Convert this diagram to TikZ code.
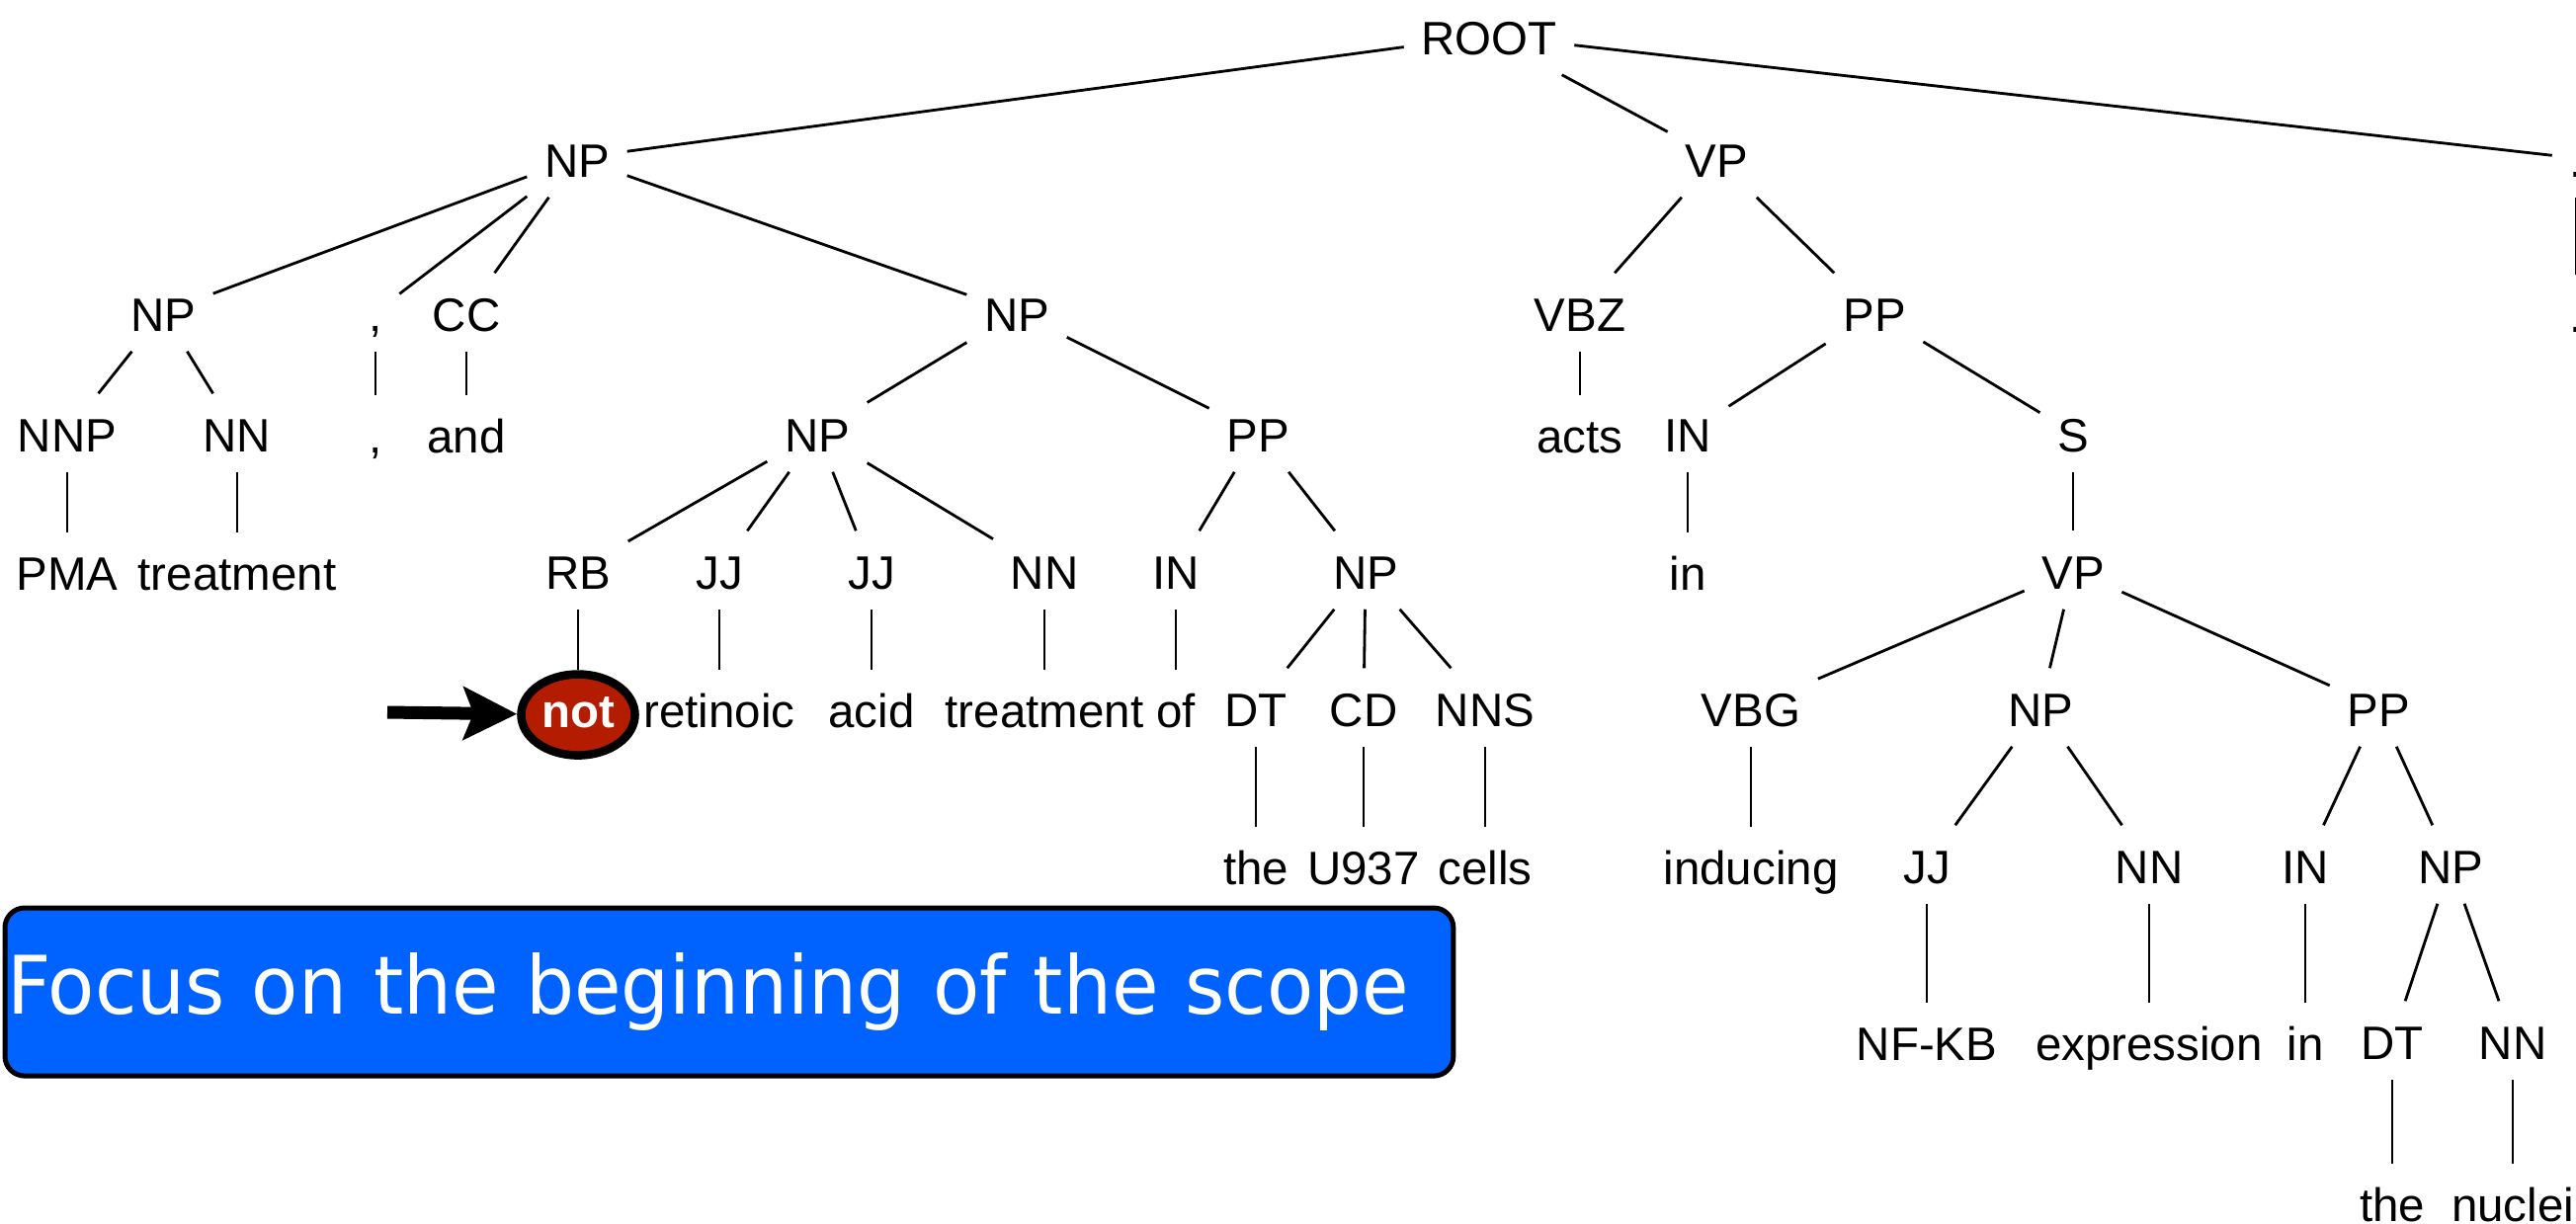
\documentclass[tikz,border=0pt]{standalone}
\usepackage{fontspec}
\setmainfont{Liberation Sans}
\newfontfamily\calloutfont[FakeStretch=0.947]{DejaVu Sans}
\usepackage{tikz}
\usetikzlibrary{arrows.meta,positioning,shapes.geometric}
\usepackage{xcolor}
\definecolor{cuered}{RGB}{180,28,0}
\definecolor{calloutblue}{RGB}{0,98,255}

\begin{document}
\begin{tikzpicture}[
  x=0.01cm, y=-0.01cm,
  every node/.style={font=\fontsize{13.5}{16}\selectfont},
  cat/.style={inner xsep=0.17cm, inner ysep=0pt, text height=0.58cm, text depth=0.20cm},
  word/.style={cat},
  cue/.style={ellipse, draw, line width=0.085cm, fill=cuered, text=white, font=\fontsize{13.5}{16}\selectfont\bfseries, minimum width=1.15cm, minimum height=0.82cm, inner sep=0pt, text height=0.25cm, text depth=0pt},
  branch/.style={line width=0.8pt},
  pointer/.style={line width=0.13cm, -{Stealth[length=0.54cm, width=0.53cm, inset=0.1cm]}},
  callout/.style={draw, line width=0.05cm, rounded corners=0.2cm, fill=calloutblue, text=white, font=\calloutfont\fontsize{23.2}{28}\selectfont, minimum height=1.70cm, text width=14.61cm, inner xsep=0.02cm, align=left}
]
\useasboundingbox (0,0) rectangle (2607,1238);

% ---------- Top of the tree ----------
\node[cat] (root) at (1507,36) {ROOT};
\node[cat] (np) at (584,160) {NP};
\node[cat] (vp) at (1737,160) {VP};
\node[cat] (period) at (2607,160) {.};
\node[word, below=0.78cm of period] (periodw) {.};

% ---------- Subject NP ----------
\node[cat] (npl) at (165,316) {NP};
\node[cat] (comma) at (380,316) {,};
\node[cat] (cc) at (472,316) {CC};
\node[cat] (npr) at (1029,316) {NP};
\node[cat] (nnp) at (68,438) {NNP};
\node[cat] (nn) at (240,438) {NN};
\node[word, below=0.44cm of comma] (commaw) {,};
\node[word, below=0.44cm of cc] (andw) {and};
\node[word, below=0.61cm of nnp] (pma) {PMA};
\node[word, below=0.61cm of nn] (treat) {treatment};
\node[cat] (npa) at (827,438) {NP};
\node[cat] (ppa) at (1273,438) {PP};
\node[cat] (rb) at (585,577) {RB};
\node[cat] (jja) at (728,577) {JJ};
\node[cat] (jjb) at (882,577) {JJ};
\node[cat] (nna) at (1057,577) {NN};
\node[cat] (ina) at (1190,577) {IN};
\node[cat] (npb) at (1382,577) {NP};
% the negation cue gets the red ellipse
\node[cue, below=0.615cm of rb] (notw) {not};
\node[word, below=0.61cm of jja] (retinoic) {retinoic};
\node[word, below=0.61cm of jjb] (acid) {acid};
\node[word, below=0.61cm of nna] (treatb) {treatment};
\node[word, below=0.61cm of ina] (of) {of};
\node[cat] (dt) at (1271,716) {DT};
\node[cat] (cd) at (1380,716) {CD};
\node[cat] (nns) at (1503,716) {NNS};
\node[word, below=0.81cm of dt] (the) {the};
\node[word, below=0.81cm of cd] (u937) {U937};
\node[word, below=0.81cm of nns] (cells) {cells};

% ---------- Verb phrase ----------
\node[cat] (vbz) at (1599,316) {VBZ};
\node[cat] (pp) at (1897,316) {PP};
\node[word, below=0.44cm of vbz] (acts) {acts};
\node[cat] (in) at (1708,438) {IN};
\node[cat] (s) at (2098,438) {S};
\node[word, below=0.61cm of in] (inw) {in};
\node[cat] (vpb) at (2098,577) {VP};
\node[cat] (vbg) at (1772,716) {VBG};
\node[cat] (npc) at (2065,716) {NP};
\node[cat] (ppb) at (2407,716) {PP};
\node[word, below=0.81cm of vbg] (inducing) {inducing};
\node[cat] (jjc) at (1950,875) {JJ};
\node[cat] (nnb) at (2175,875) {NN};
\node[cat] (inb) at (2333,875) {IN};
\node[cat] (npd) at (2480,875) {NP};
\node[word, below=1.00cm of jjc] (nfkb) {NF-KB};
\node[word, below=1.00cm of nnb] (expr) {expression};
\node[word, below=1.00cm of inb] (inbw) {in};
\node[cat] (dtb) at (2421,1053) {DT};
\node[cat] (nnc) at (2543,1053) {NN};
\node[word, below=0.85cm of dtb] (theb) {the};
\node[word, below=0.85cm of nnc] (nuclei) {nuclei};

% ---------- Branches ----------
\draw[branch] (root) -- (np);
\draw[branch] (root) -- (vp);
\draw[branch] (root) -- (period);
\draw[branch] (period) -- (periodw);
\draw[branch] (np) -- (npl);
\draw[branch] (np) -- (comma);
\draw[branch] (np) -- (cc);
\draw[branch] (np) -- (npr);
\draw[branch] (npl) -- (nnp);
\draw[branch] (npl) -- (nn);
\draw[branch] (nnp) -- (pma);
\draw[branch] (nn) -- (treat);
\draw[branch] (comma) -- (commaw);
\draw[branch] (cc) -- (andw);
\draw[branch] (npr) -- (npa);
\draw[branch] (npr) -- (ppa);
\draw[branch] (npa) -- (rb);
\draw[branch] (npa) -- (jja);
\draw[branch] (npa) -- (jjb);
\draw[branch] (npa) -- (nna);
\draw[branch] (rb) -- (notw);
\draw[branch] (jja) -- (retinoic);
\draw[branch] (jjb) -- (acid);
\draw[branch] (nna) -- (treatb);
\draw[branch] (ppa) -- (ina);
\draw[branch] (ppa) -- (npb);
\draw[branch] (ina) -- (of);
\draw[branch] (npb) -- (dt);
\draw[branch] (npb) -- (cd);
\draw[branch] (npb) -- (nns);
\draw[branch] (dt) -- (the);
\draw[branch] (cd) -- (u937);
\draw[branch] (nns) -- (cells);
% verb side
\draw[branch] (vp) -- (vbz);
\draw[branch] (vp) -- (pp);
\draw[branch] (vbz) -- (acts);
\draw[branch] (pp) -- (in);
\draw[branch] (pp) -- (s);
\draw[branch] (in) -- (inw);
\draw[branch] (s) -- (vpb);
\draw[branch] (vpb) -- (vbg);
\draw[branch] (vpb) -- (npc);
\draw[branch] (vpb) -- (ppb);
\draw[branch] (vbg) -- (inducing);
\draw[branch] (npc) -- (jjc);
\draw[branch] (npc) -- (nnb);
\draw[branch] (jjc) -- (nfkb);
\draw[branch] (nnb) -- (expr);
\draw[branch] (ppb) -- (inb);
\draw[branch] (ppb) -- (npd);
\draw[branch] (inb) -- (inbw);
\draw[branch] (npd) -- (dtb);
\draw[branch] (npd) -- (nnc);
\draw[branch] (dtb) -- (theb);
\draw[branch] (nnc) -- (nuclei);

% ---------- Pointer and caption ----------
\coordinate (tail) at (392,721);
\draw[pointer] (tail) -- (notw);
\node[callout, anchor=north west] (focus) at (2.5,916.5) {Focus on the beginning of the scope};
\end{tikzpicture}
\end{document}
